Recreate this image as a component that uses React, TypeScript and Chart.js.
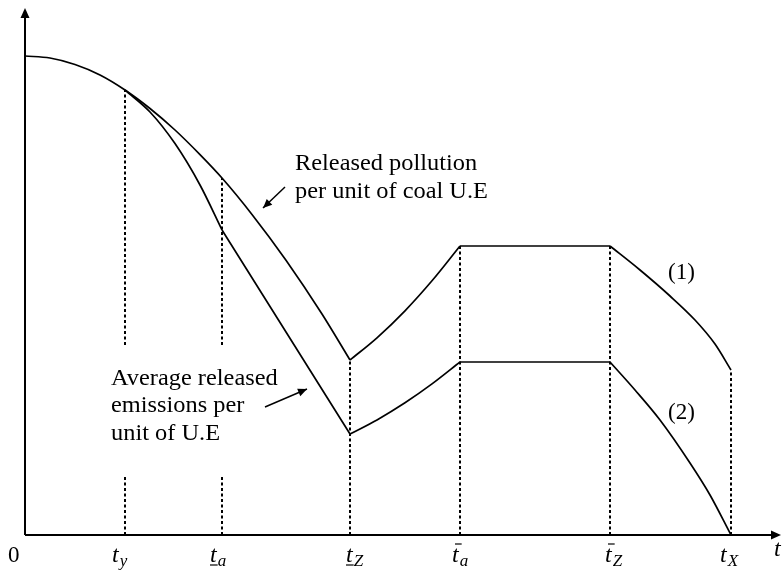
import React, { useEffect, useRef } from "react";
import { Chart, registerables } from "chart.js";
Chart.register(...registerables);

// Data units: x = time (0 at origin), y = emission level (0 at axis)
const X_MAX = 756;
const Y_MAX = 527;

// tick positions on the time axis
const tickX = [100, 197, 325, 435, 585, 706];
const tickSub = ["y", "a", "Z", "a", "Z", "X"];
const tickMark = ["", "under", "under", "bar", "bar", ""];
const tickLabelX = [87, 185, 321, 427, 580, 695];
// top of each dashed guide, and gaps (for the first two)
const guideTop = [445, 357, 175, 289, 289, 165];
const guideGapLow = [60, 60, null, null, null, null];
const guideGapHigh = [190, 190, null, null, null, null];

// curve (1): released pollution per unit of coal U.E
const upperFall: [number, number][] = [
  [0, 479], [25, 477], [50, 470.5], [75, 460], [100, 445], [125, 426.5], [150, 405],
  [175, 380.4], [197, 357], [227, 320.6], [261, 274.8], [297, 221], [325, 175],
];
const upperRise: [number, number][] = [[325, 175], [352, 197.2], [380, 224.2], [407, 254.2], [435, 289]];
const upperFlat: [number, number][] = [[435, 289], [585, 289]];
const upperDrop: [number, number][] = [[585, 289], [615, 265], [645, 239], [670, 215], [690, 191], [706, 165]];

// curve (2): average released emissions per unit of U.E
const lowerFall: [number, number][] = [[100, 445], [125, 423], [150, 391.4], [175, 350], [197, 305]];
const lowerLine: [number, number][] = [[197, 305], [325, 101]];
const lowerRise: [number, number][] = [[325, 101], [352, 115.1], [380, 132.2], [407, 151.1], [435, 173]];
const lowerFlat: [number, number][] = [[435, 173], [585, 173]];
const lowerDrop: [number, number][] = [[585, 173], [610, 145], [635, 115], [665, 72], [685, 40], [706, 0]];

const seg = (pts: [number, number][]) => pts.map(([x, y]) => ({ x, y }));

export default function App() {
  const ref = useRef<HTMLCanvasElement | null>(null);
  useEffect(() => {
    const canvas = ref.current!;
    const curveDs = (pts: [number, number][]) => ({
      data: seg(pts),
      borderColor: "#000",
      borderWidth: 1.7,
      pointRadius: 0,
      fill: false,
      cubicInterpolationMode: "monotone" as const,
    });
    const guides = tickX.map((x, i) => {
      const d: any[] = [];
      if (guideGapLow[i] != null) {
        d.push({ x, y: 0 }, { x, y: guideGapLow[i] }, { x, y: null }, { x, y: guideGapHigh[i] }, { x, y: guideTop[i] });
      } else {
        d.push({ x, y: 0 }, { x, y: guideTop[i] });
      }
      return {
        data: d,
        borderColor: "#000",
        borderWidth: 2,
        borderDash: [3, 2.5],
        pointRadius: 0,
        fill: false,
        spanGaps: false,
      };
    });

    const arrowHead = (ctx: CanvasRenderingContext2D, x1: number, y1: number, x2: number, y2: number, len: number, wid: number) => {
      const a = Math.atan2(y2 - y1, x2 - x1);
      ctx.beginPath();
      ctx.moveTo(x2, y2);
      ctx.lineTo(x2 - len * Math.cos(a) + wid * Math.sin(a), y2 - len * Math.sin(a) - wid * Math.cos(a));
      ctx.lineTo(x2 - len * Math.cos(a) - wid * Math.sin(a), y2 - len * Math.sin(a) + wid * Math.cos(a));
      ctx.closePath();
      ctx.fill();
    };

    const plugin = {
      id: "sketch",
      beforeDatasetsDraw(chart: any) {
        const ctx: CanvasRenderingContext2D = chart.ctx;
        const xs = chart.scales.x, ys = chart.scales.y;
        const x0 = xs.getPixelForValue(0), y0 = ys.getPixelForValue(0);
        const xe = xs.getPixelForValue(X_MAX), ye = ys.getPixelForValue(Y_MAX);
        ctx.save();
        ctx.strokeStyle = "#000";
        ctx.fillStyle = "#000";
        ctx.lineWidth = 2;
        ctx.beginPath();
        ctx.moveTo(x0, y0);
        ctx.lineTo(xe - 6, y0);
        ctx.moveTo(x0, y0);
        ctx.lineTo(x0, ye + 6);
        ctx.stroke();
        arrowHead(ctx, x0, y0, xe, y0, 10, 4.5);
        arrowHead(ctx, x0, y0, x0, ye, 10, 4.5);
        ctx.restore();
      },
      afterDatasetsDraw(chart: any) {
        const ctx: CanvasRenderingContext2D = chart.ctx;
        const xs = chart.scales.x, ys = chart.scales.y;
        const px = (v: number) => xs.getPixelForValue(v);
        const py = (v: number) => ys.getPixelForValue(v);
        ctx.save();
        ctx.fillStyle = "#000";
        ctx.strokeStyle = "#000";
        ctx.textBaseline = "alphabetic";
        ctx.textAlign = "left";

        // tick labels
        const labelBase = py(-27);
        ctx.font = '23px "Liberation Serif"';
        ctx.fillText("0", px(-17), labelBase);
        tickX.forEach((_, i) => {
          const lx = px(tickLabelX[i]);
          ctx.font = 'italic 24px "Liberation Serif"';
          ctx.fillText("t", lx, labelBase);
          const w = ctx.measureText("t").width;
          ctx.lineWidth = 1.2;
          if (tickMark[i] === "under") {
            ctx.beginPath();
            ctx.moveTo(lx, labelBase + 3);
            ctx.lineTo(lx + w + 1, labelBase + 3);
            ctx.stroke();
          } else if (tickMark[i] === "bar") {
            ctx.beginPath();
            ctx.moveTo(lx + 3, labelBase - 18);
            ctx.lineTo(lx + w + 3, labelBase - 18);
            ctx.stroke();
          }
          ctx.font = 'italic 17px "Liberation Serif"';
          ctx.fillText(tickSub[i], lx + w + 1, labelBase + 4);
        });
        ctx.font = 'italic 24px "Liberation Serif"';
        ctx.fillText("t", px(749), py(-21));

        // annotation texts
        const stretch = 1.06;
        const txt = (s: string, x: number, y: number) => {
          ctx.save();
          ctx.translate(px(x), py(y));
          ctx.scale(stretch, 1);
          ctx.fillText(s, 0, 0);
          ctx.restore();
        };
        ctx.font = '23px "Liberation Serif"';
        txt("Released pollution", 270, 365);
        txt("per unit of coal U.E", 270, 337);
        txt("Average released", 86, 150);
        txt("emissions per", 86, 123);
        txt("unit of U.E", 86, 95);
        ctx.textBaseline = "middle";
        ctx.fillText("(1)", px(643), py(262));
        ctx.fillText("(2)", px(643), py(122));

        // annotation arrows
        ctx.lineWidth = 1.5;
        const arrow = (a: number, b: number, c: number, d: number) => {
          ctx.beginPath();
          ctx.moveTo(px(a), py(b));
          ctx.lineTo(px(c), py(d));
          ctx.stroke();
          arrowHead(ctx, px(a), py(b), px(c), py(d), 9, 4);
        };
        arrow(260, 348, 238, 327);
        arrow(240, 128, 282, 146);
        ctx.restore();
      },
    };

    const chart = new Chart(canvas, {
      type: "line",
      data: {
        datasets: [
          curveDs(upperFall), curveDs(upperRise), curveDs(upperFlat), curveDs(upperDrop),
          curveDs(lowerFall), curveDs(lowerLine), curveDs(lowerRise), curveDs(lowerFlat), curveDs(lowerDrop),
          ...guides,
        ] as any,
      },
      options: {
        responsive: false,
        animation: false,
        layout: { padding: { left: 25, right: 2, top: 8, bottom: 35 } },
        scales: {
          x: { type: "linear", min: 0, max: X_MAX, display: false },
          y: { type: "linear", min: 0, max: Y_MAX, display: false },
        },
        plugins: { legend: { display: false }, tooltip: { enabled: false } },
      },
      plugins: [plugin],
    });
    return () => chart.destroy();
  }, []);
  return (
    <div style={{ position: "fixed", left: 0, top: 0, width: 783, height: 570, background: "#fff" }}>
      <canvas ref={ref} width={783} height={570} />
    </div>
  );
}
